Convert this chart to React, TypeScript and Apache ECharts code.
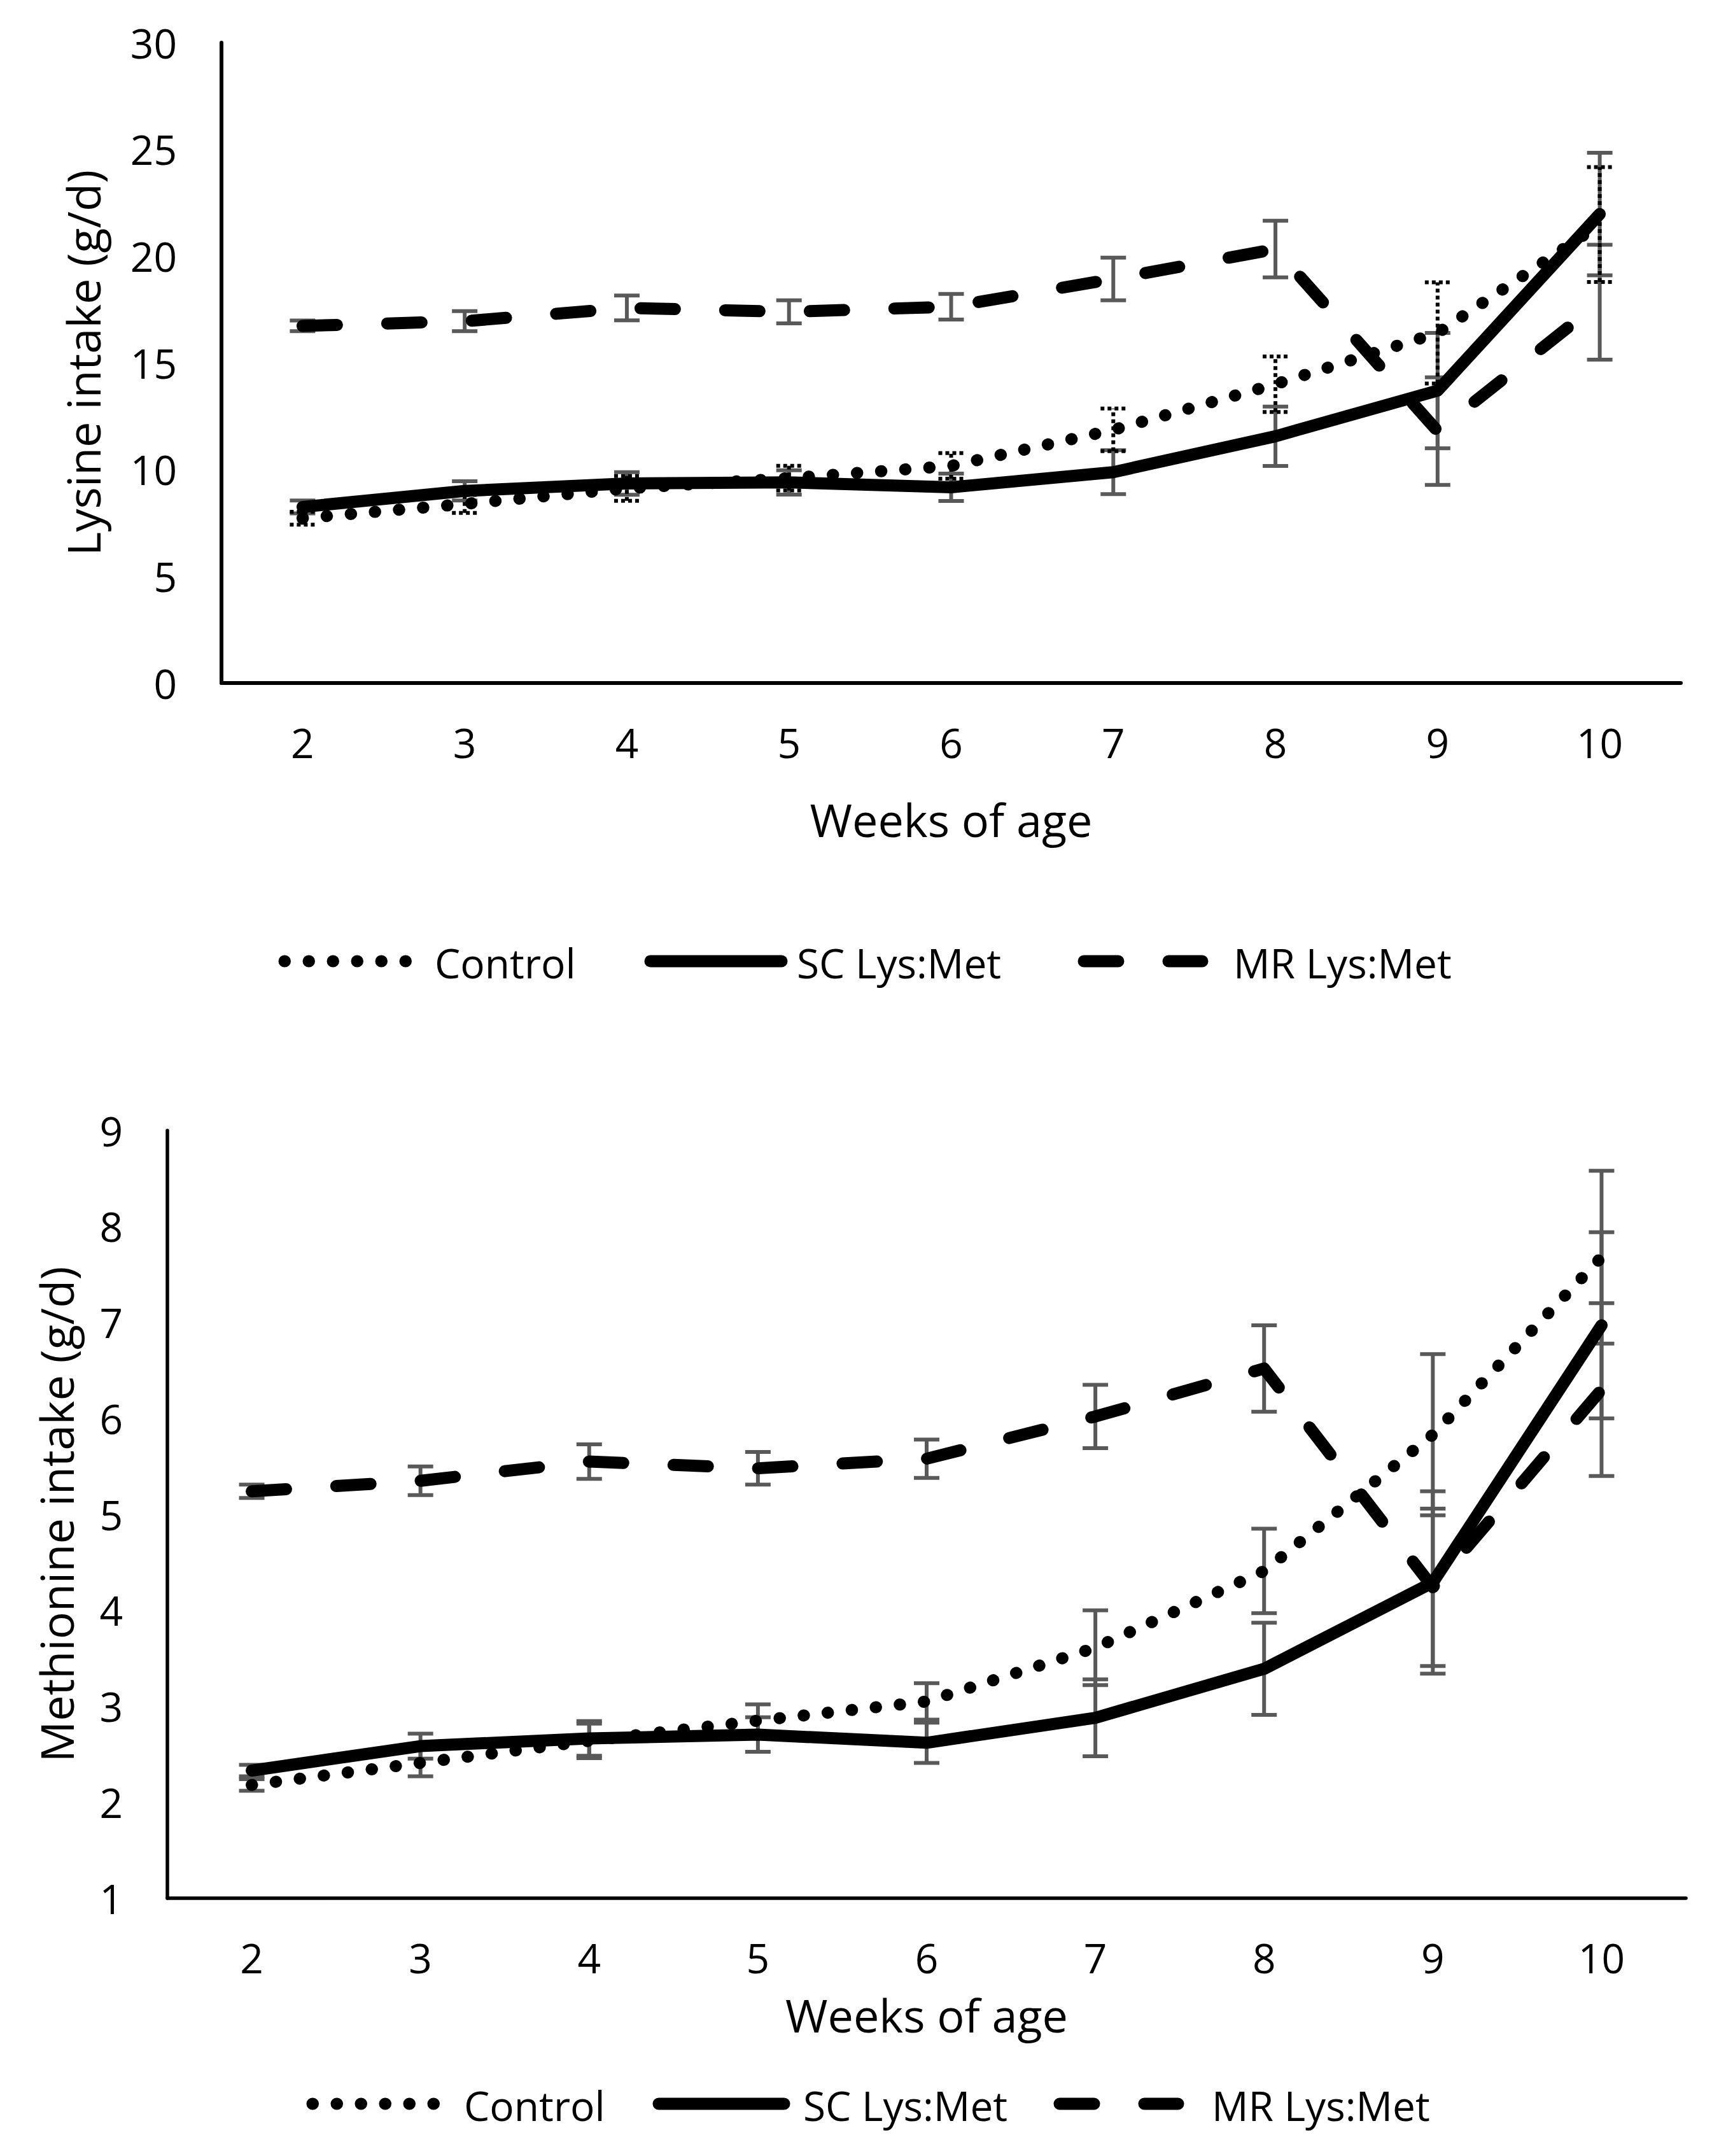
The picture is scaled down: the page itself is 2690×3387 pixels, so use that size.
import React, { useEffect, useRef } from 'react';
import * as echarts from 'echarts';

const weeks = ['2', '3', '4', '5', '6', '7', '8', '9', '10'];
const yTicksLys = { min: 0, max: 30, interval: 5 };
const yTicksMet = { min: 1, max: 9, interval: 1 };

// Lysine intake (g/d)
const lysControl = [7.72, 8.39, 9.12, 9.6, 10.17, 11.86, 14.0, 16.4, 21.48];
const lysControlErr = [0.3, 0.42, 0.58, 0.58, 0.6, 1.0, 1.3, 2.37, 2.69];
const lysSC = [8.25, 9.0, 9.35, 9.4, 9.17, 9.88, 11.56, 13.7, 21.97];
const lysSCErr = [0.3, 0.45, 0.53, 0.57, 0.64, 1.03, 1.39, 2.7, 2.87];
const lysMR = [16.73, 16.95, 17.57, 17.39, 17.63, 18.93, 20.33, 11.8, 17.84];
const lysMRErr = [0.25, 0.47, 0.58, 0.54, 0.6, 1.0, 1.33, 2.52, 2.69];

// Methionine intake (g/d)
const metControl = [2.18, 2.41, 2.64, 2.85, 3.05, 3.61, 4.41, 5.83, 7.68];
const metControlErr = [0.06, 0.14, 0.18, 0.17, 0.19, 0.39, 0.44, 0.84, 0.9];
const metSC = [2.33, 2.585, 2.665, 2.705, 2.62, 2.88, 3.39, 4.29, 6.97];
const metSCErr = [0.06, 0.13, 0.18, 0.18, 0.21, 0.4, 0.48, 0.95, 0.97];
const metMR = [5.24, 5.35, 5.55, 5.48, 5.58, 6.02, 6.52, 4.24, 6.3];
const metMRErr = [0.07, 0.15, 0.18, 0.17, 0.2, 0.33, 0.45, 0.82, 0.9];

const seriesNames = ['Control', 'SC Lys:Met', 'MR Lys:Met'];

const FONT = '"Open Sans", sans-serif';
const DOT = [0.5, 37.5];
const DASH = [54, 79];
const LW = 19;
const ERR_GRAY = '#595959';

function errData(mean: number[], err: number[]) {
  return mean.map((m, i) => [i, m - err[i], m + err[i]]);
}

function errorSeries(axisIndex: number, mean: number[], err: number[], color: string, dash: number[] | null) {
  return {
    type: 'custom',
    xAxisIndex: axisIndex,
    yAxisIndex: axisIndex,
    z: 1,
    silent: true,
    encode: { x: 0, y: [1, 2] },
    renderItem: (params: any, api: any) => {
      const x = api.value(0);
      const lo = api.coord([x, api.value(1)]);
      const hi = api.coord([x, api.value(2)]);
      const hw = 20;
      const style = { stroke: color, lineWidth: 6, lineDash: dash, fill: null };
      return {
        type: 'group',
        children: [
          { type: 'line', shape: { x1: lo[0], y1: lo[1], x2: hi[0], y2: hi[1] }, style },
          { type: 'line', shape: { x1: lo[0] - hw, y1: lo[1], x2: lo[0] + hw, y2: lo[1] }, style },
          { type: 'line', shape: { x1: hi[0] - hw, y1: hi[1], x2: hi[0] + hw, y2: hi[1] }, style },
        ],
      };
    },
    data: errData(mean, err),
  };
}

function lineSeries(axisIndex: number, name: string, data: number[], dash: number[] | 'solid') {
  return {
    type: 'line',
    name,
    xAxisIndex: axisIndex,
    yAxisIndex: axisIndex,
    z: 3,
    symbol: 'none',
    silent: true,
    data,
    lineStyle: { color: '#000', width: LW, type: dash, cap: 'round', join: 'round' },
  };
}

function legendGraphic(y: number, items: { x1: number; x2: number; tx: number; dash: number[] | null }[]) {
  const els: any[] = [];
  items.forEach((it, i) => {
    els.push({
      type: 'line',
      silent: true,
      shape: { x1: it.x1, y1: y, x2: it.x2, y2: y },
      style: { stroke: '#000', lineWidth: LW, lineDash: it.dash, lineCap: 'round' },
    });
    els.push({
      type: 'text',
      silent: true,
      style: {
        text: seriesNames[i],
        x: it.tx,
        y: y + 2,
        fill: '#000',
        font: `64px ${FONT}`,
        align: 'left',
        verticalAlign: 'middle',
      },
    });
  });
  return els;
}

function axisCommon() {
  return {
    axisTick: { show: false },
    nameTextStyle: { color: '#000', fontSize: 72, fontFamily: FONT },
    nameLocation: 'middle',
  };
}

export default function App() {
  const ref = useRef<HTMLDivElement>(null);
  useEffect(() => {
    if (!ref.current) return;
    const chart = echarts.init(ref.current, undefined, { renderer: 'svg' });
    const option: any = {
      animation: false,
      backgroundColor: '#fff',
      textStyle: { fontFamily: FONT },
      grid: [
        { left: 348, top: 67, width: 2293, height: 1006 },
        { left: 263, top: 1776, width: 2386, height: 1206 },
      ],
      xAxis: [0, 1].map((g) => ({
        ...axisCommon(),
        type: 'category',
        gridIndex: g,
        data: weeks,
        boundaryGap: true,
        name: 'Weeks of age',
        nameGap: g === 0 ? 178 : 147,
        axisLine: { show: true, onZero: false, lineStyle: { color: '#000', width: g === 0 ? 6 : 5.5 } },
        axisLabel: { color: '#000', fontSize: 64, margin: 61, fontFamily: FONT },
      })),
      yAxis: [0, 1].map((g) => ({
        ...axisCommon(),
        type: 'value',
        gridIndex: g,
        ...(g === 0 ? yTicksLys : yTicksMet),
        name: g === 0 ? 'Lysine intake (g/d)' : 'Methionine intake (g/d)',
        nameRotate: 90,
        nameGap: g === 0 ? 182 : 139,
        splitLine: { show: false },
        axisLine: { show: true, lineStyle: { color: '#000', width: g === 0 ? 6 : 5.5 } },
        axisLabel: { color: '#000', fontSize: 64, margin: 70, fontFamily: FONT },
      })),
      series: [
        errorSeries(0, lysSC, lysSCErr, ERR_GRAY, null),
        errorSeries(0, lysMR, lysMRErr, ERR_GRAY, null),
        errorSeries(0, lysControl, lysControlErr, '#000', [6, 5]),
        lineSeries(0, 'Control', lysControl, DOT),
        lineSeries(0, 'SC Lys:Met', lysSC, 'solid'),
        lineSeries(0, 'MR Lys:Met', lysMR, DASH),
        errorSeries(1, metSC, metSCErr, ERR_GRAY, null),
        errorSeries(1, metMR, metMRErr, ERR_GRAY, null),
        errorSeries(1, metControl, metControlErr, ERR_GRAY, null),
        lineSeries(1, 'Control', metControl, DOT),
        lineSeries(1, 'SC Lys:Met', metSC, 'solid'),
        lineSeries(1, 'MR Lys:Met', metMR, DASH),
      ],
      graphic: [
        ...legendGraphic(1510, [
          { x1: 447, x2: 640, tx: 683, dash: DOT },
          { x1: 1022, x2: 1228, tx: 1252, dash: null },
          { x1: 1703, x2: 1889, tx: 1938, dash: DASH },
        ]),
        ...legendGraphic(3305, [
          { x1: 491, x2: 684, tx: 729, dash: DOT },
          { x1: 1035, x2: 1232, tx: 1262, dash: null },
          { x1: 1665, x2: 1851, tx: 1904, dash: DASH },
        ]),
      ],
    };
    chart.setOption(option);
    return () => chart.dispose();
  }, []);
  return (
    <div
      ref={ref}
      style={{ position: 'absolute', left: 0, top: 0, width: 2690, height: 3387, background: '#fff' }}
    />
  );
}
